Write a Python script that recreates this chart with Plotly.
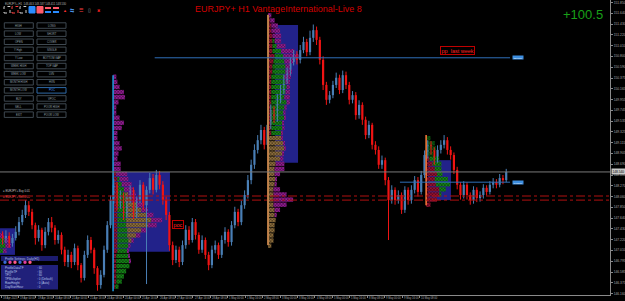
import plotly.graph_objects as go

# ---------------- data ----------------
first_open = 147.30
hours_per_candle = 3
closes = [147.21,147.29,147.15,147.25,147.37, 147.56,147.70,147.89,147.76,147.50,
          147.25,147.41,147.11,147.37,147.56, 147.45,147.21,147.31,147.02,146.78,
          146.92,146.78,147.05,146.72,146.47, 146.92,147.21,147.02,146.66,146.33,
          146.53,147.02,147.50,147.99,148.29, 147.89,148.09,147.70,147.99,148.19,
          147.70,147.99,148.29,147.89,148.19, 148.42,148.19,148.48,148.29,147.99,
          147.70,147.11,146.82,147.02,146.78, 147.11,147.41,147.21,147.56,147.31,
          147.02,147.21,146.92,146.72,147.02, 147.11,146.92,147.21,147.37,147.17,
          147.50,147.76,147.56,147.89,148.09, 148.38,148.68,148.97,149.16,149.36,
          149.07,149.46,149.75,149.59,149.95, 150.14,150.34,150.49,150.69,150.83,
          150.73,150.92,151.08,150.88,151.16, 151.31,151.12,150.73,150.24,149.95,
          150.04,150.24,150.38,150.14,150.43, 150.24,149.95,150.04,149.65,149.85,
          149.56,149.26,149.46,149.07,148.97, 148.68,148.77,148.38,147.99,148.19,
          147.99,148.09,147.80,148.19,147.99, 148.19,148.38,148.15,148.48,148.87,
          149.07,148.97,148.77,148.97,149.07, 149.16,148.97,148.87,148.58,148.29,
          148.09,148.29,148.09,147.99,148.19, 148.03,148.09,148.23,148.15,148.29,
          148.34,148.29,148.42,148.38,148.54]
highs = [147.38,147.40,147.36,147.33,147.48, 147.66,147.80,147.99,147.97,147.82,
         147.55,147.50,147.45,147.46,147.64, 147.66,147.50,147.40,147.36,147.08,
         147.02,146.98,147.14,147.10,146.76, 147.00,147.30,147.27,147.06,146.70,
         146.62,147.10,147.58,148.08,148.40, 148.34,148.18,148.14,148.08,148.28,
         148.24,148.06,148.38,148.34,148.26, 148.52,148.50,148.58,148.56,148.36,
         148.06,147.76,147.18,147.10,147.08, 147.20,147.50,147.48,147.64,147.62,
         147.36,147.30,147.26,146.98,147.10, 147.20,147.16,147.30,147.46,147.42,
         147.58,147.86,147.82,147.98,148.18, 148.48,148.78,149.08,149.26,149.46,
         149.42,149.56,149.86,149.82,150.06, 150.24,150.44,150.58,150.78,150.92,
         150.90,151.02,151.18,151.14,151.30, 151.42,151.38,151.18,150.80,150.30,
         150.12,150.32,150.48,150.44,150.52, 150.50,150.30,150.12,150.10,149.94,
         149.90,149.62,149.54,149.50,149.14, 149.04,148.86,148.82,148.44,148.28,
         148.24,148.18,148.14,148.26,148.24, 148.28,148.46,148.44,148.56,148.96,
         149.16,149.14,149.02,149.06,149.16, 149.26,149.22,149.04,148.92,148.64,
         148.34,148.36,148.34,148.14,148.26, 148.24,148.16,148.30,148.28,148.36,
         148.42,148.40,148.50,148.48,148.60]
lows = [147.12,147.15,147.06,147.08,147.20, 147.30,147.50,147.64,147.68,147.42,
        147.12,147.18,147.00,147.05,147.30, 147.36,147.12,147.14,146.93,146.70,
        146.68,146.66,146.72,146.62,146.38, 146.42,146.86,146.95,146.55,146.22,
        146.26,146.48,146.96,147.44,147.92, 147.80,147.82,147.60,147.64,147.92,
        147.62,147.64,147.92,147.80,146.35, 148.12,148.10,148.14,148.20,147.90,
        147.60,147.00,146.72,146.76,146.68, 146.72,147.04,147.12,147.16,147.22,
        146.94,146.96,146.84,146.62,146.66, 146.95,146.84,146.86,147.14,147.08,
        147.10,147.44,147.48,147.50,147.82, 148.02,148.30,148.60,148.90,149.08,
        148.98,149.00,149.38,149.50,149.52, 149.88,150.06,150.26,150.42,150.62,
        150.64,150.66,150.86,150.80,150.82, 151.08,151.02,150.64,150.14,149.85,
        149.88,149.98,150.18,150.06,150.08, 150.16,149.86,149.88,149.56,149.58,
        149.46,149.18,149.20,148.98,148.88, 148.60,148.60,148.28,147.21,147.92,
        147.90,147.92,147.72,147.74,147.90, 147.92,148.12,148.06,148.10,148.42,
        148.80,148.88,148.68,148.72,148.90, 149.00,148.88,148.78,148.50,148.20,
        148.00,148.02,148.00,147.90,147.92, 147.95,147.96,148.02,148.08,148.10,
        148.22,148.22,148.24,148.30,148.34]

x_tick_hours = [0,16,32,48,64,80,96,112,128,144,160,176,192,208,224,240,256,272,288,304,320,336,352,368,384]
x_tick_labels = ["18 Apr 2023","19 Apr 00:00","19 Apr 16:00","20 Apr 08:00","21 Apr 00:00","21 Apr 16:00",
                 "24 Apr 08:00","25 Apr 00:00","25 Apr 16:00","26 Apr 08:00","27 Apr 00:00","27 Apr 16:00",
                 "28 Apr 08:00","1 May 00:00","1 May 16:00","2 May 08:00","3 May 00:00","3 May 16:00",
                 "4 May 08:00","5 May 00:00","5 May 16:00","8 May 08:00","9 May 00:00","9 May 16:00","10 May 08:00"]
y_tick_values = [151.850,151.640,151.430,151.220,151.010,150.800,150.590,150.375,150.165,149.955,
                 149.745,149.535,149.325,149.115,148.905,148.690,148.480,148.270,148.060,147.850,
                 147.640,147.430,147.220,147.010,146.795,146.585,146.375,146.160]
y_tick_text = ["151.850","151.640","151.430","151.220","151.010","150.800","150.590","150.375","150.165","149.955",
               "149.745","149.535","149.325","149.115","148.905","148.690","148.480","148.270","148.060","147.850",
               "147.640","147.430","147.220","147.010","146.795","146.585","146.375","146.160"]

# market profiles (levels in price, segment lengths in hourly bars)
p1_anchor = 102.8
p1_levels = [150.40,150.30,150.20,150.10,150.00,149.90,149.80,149.70,149.60,149.50,149.40,149.30,149.20,149.10,
             149.00,148.90,148.80,148.70,148.60,148.50,148.40,148.30,148.20,148.10,148.00,147.90,147.80,147.70,
             147.60,147.50,147.40,147.30,147.20,147.10,147.00,146.90,146.80,146.70,146.60,146.50,146.40,146.30]
p1_red = [0,0,0,0,0,0,0,0,0,0,0,0,0,0,0,0,0,0, 0,3,4,4,4,4,4,4,4,4,4,4,4,4,4,4,4,3,3,3,3,3,3,2]
p1_green = [0,0,0,0,0,0,0,0,0,0,0,0,0,0,0,0,0,0, 0,0,2,4,6,7,7,8,8,8,8,8,9,9,10,10,9,11,12,12,9,7,5,3]
p1_tan = [0,0,0,0,0,0,0,0,0,0,0,0,0,0,0,0,0,0, 0,0,0,0,0,3,6,10,14,19,23,20,13,8,3,0,0,0,0,0,0,0,0,0]
p1_mag = [3,4,6,10,11,5,3,3,6,10,8,4,4,6,8,5,4,7, 7,10,8,9,8,7,6,6,6,6,10,8,5,4,2,2,1,1,1,0,0,0,0,0]

p2_anchor = 245.0
p2_levels = [151.60,151.50,151.40,151.30,151.20,151.10,151.00,150.90,150.80,150.70,150.60,150.50,150.40,150.30,
             150.20,150.10,150.00,149.90,149.80,149.70,149.60,149.50,149.40,149.30,149.20,149.10,149.00,148.90,
             148.80,148.70,148.60,148.50,148.40,148.30,148.20,148.10,148.00,147.90,147.80,147.70,147.60,147.50,
             147.40,147.30,147.20,147.10]
p2_red = [0,2,3,3,4,4,4,4,6,5,4,4,3,3,3,3,3,3,3,3,3,3,3,3, 0,0,0,0,0, 0,0,0,0,0,0,0,0,0,0,0,0,0,0,0,0,0]
p2_green = [0,0,0,0,0,2,4,8,8,10,12,12,12,13,14,13,12,14,12,11,12,10,10,9, 0,0,0,0,0, 0,0,0,0,0,0,0,0,0,0,0,0,0,0,0,0,0]
p2_tan = [0,0,0,0,0,0,0,0,0,0,0,0,0,0,0,0,0,0,0,0,0,0,0,0, 12,14,15,13,11, 7,6,6,7,6,5,5,5,5,6,6,7,6,6,5,5,3]
p2_mag = [3,4,6,8,8,6,8,12,14,8,4,6,6,4,3,4,5,3,2,2,1,1,2,1, 1,1,1,1,3, 8,9,5,1,2,6,12,18,12,5,2,0,0,0,0,0,0]

p3_anchor = 390.0
p3_levels = [149.20,149.10,149.00,148.90,148.80,148.70,148.60,148.50,148.40,148.30,148.20,148.10,148.00,147.90]
p3_red = [0,0,0,0,3,6,8,10,8,9,12,12,10,4]
p3_dkgreen = [4,8,9,7,0,0,0,0,0,0,0,0,0,0]
p3_green = [0,0,0,0,9,8,6,5,12,13,6,2,0,0]

p0_anchor = -0.9
p0_levels = [147.30,147.20,147.10,147.00]
p0_green = [0,4,5,3]
p0_mag = [3,4,5,3]

# value-area boxes
box_x0 = [-0.9, 102.8, 251.4, 391.7]
box_x1 = [12.8, 155.0, 272.5, 412.8]
box_lo = [146.92, 146.98, 148.72, 147.99]
box_hi = [147.44, 148.54, 151.41, 148.77]

# profile start lines
vline_x = [102.8, 245.0, 390.0]
vline_lo = [146.21, 147.11, 147.89]
vline_hi = [150.43, 151.61, 149.26]

# horizontal levels
bid_price = 148.54
pp_price = 150.77
pp_start, pp_end = 141.0, 467.0
lvl2_price = 148.34
lvl2_start, lvl2_end = 366.0, 467.0
order_prices = [148.07, 147.99]
poc_label_x, poc_label_price = 157.0, 147.52
pp_label_x, pp_label_price = 402.8, 150.92

left_buttons = ["HIGH","LOW","OPEN","Y High","Y Low","WEEK HIGH","WEEK LOW","MONTH HIGH","MONTH LOW","BUY","SELL","EXIT"]
right_buttons = ["LONG","SHORT","COVER","SINGLE","BOTTOM GAP","TOP GAP","LVN","HVN","POC","VPOC","POOR HIGH","POOR LOW"]
panel_names = ["ProfileDataTF","ProfileTF","TPO","TPMultiplier","RowHeight","DayStartHour"]
panel_values = ["60","60","60","0 (Default)","0 (Auto)","0"]

# ---------------- figure ----------------
W, H = 625, 301
PW, PH = 610, 295
def px(x):
    return x / PW
def py(y):
    return 1 - y / PH

FONT = "Liberation Sans, Arial, sans-serif"
UP, DN = "#4a7fb5", "#f01414"
RED, GREEN, TAN, MAG, DKG = "#e0184a", "#22c622", "#c8a05a", "#d22ad2", "#0c7a16"
DARK = {RED: "#5a0a1e", GREEN: "#0c500e", TAN: "#5a4424", MAG: "#5a105a", DKG: "#06380a"}

fig = go.Figure()

opens = [first_open] + closes[:-1]
xc = [hours_per_candle * i + hours_per_candle / 2 for i in range(len(closes))]

for up in (True, False):
    idx = [i for i in range(len(closes)) if (closes[i] >= opens[i]) == up]
    col = UP if up else DN
    wx, wy = [], []
    for i in idx:
        wx += [xc[i], xc[i], None]
        wy += [lows[i], highs[i], None]
    fig.add_trace(go.Scatter(x=wx, y=wy, mode="lines", line=dict(color=col, width=1),
                             hoverinfo="skip", showlegend=False))
    fig.add_trace(go.Bar(x=[xc[i] for i in idx],
                         base=[min(opens[i], closes[i]) for i in idx],
                         y=[max(abs(closes[i] - opens[i]), 0.012) for i in idx],
                         width=2.0, marker=dict(color=col, line=dict(width=0)),
                         hoverinfo="skip", showlegend=False))

def add_profile(anchor, levels, segments):
    cum = [anchor] * len(levels)
    for lengths, col in segments:
        fig.add_trace(go.Bar(orientation="h", y=levels, x=lengths, base=list(cum), width=0.085,
                             marker=dict(color=col, line=dict(width=0),
                                         pattern=dict(shape="x", fgcolor=col, bgcolor=DARK[col],
                                                      size=2.2, solidity=0.55)),
                             hoverinfo="skip", showlegend=False))
        cum = [c + l for c, l in zip(cum, lengths)]

add_profile(p0_anchor, p0_levels, [(p0_green, GREEN), (p0_mag, MAG)])
add_profile(p1_anchor, p1_levels, [(p1_red, RED), (p1_green, GREEN), (p1_tan, TAN), (p1_mag, MAG)])
add_profile(p2_anchor, p2_levels, [(p2_red, RED), (p2_green, GREEN), (p2_tan, TAN), (p2_mag, MAG)])
add_profile(p3_anchor, p3_levels, [(p3_red, RED), (p3_dkgreen, DKG), (p3_green, GREEN)])

shapes = []
for x0, x1, lo, hi in zip(box_x0, box_x1, box_lo, box_hi):
    shapes.append(dict(type="rect", xref="x", yref="y", x0=x0, x1=x1, y0=lo, y1=hi,
                       fillcolor="#22228a", line=dict(width=0), layer="below"))
vcols = ["#1e9be0", "#c0824a", "#ff7a3a"]
vwid = [1.5, 2, 1.5]
for x, lo, hi, c, w in zip(vline_x, vline_lo, vline_hi, vcols, vwid):
    shapes.append(dict(type="line", xref="x", yref="y", x0=x, x1=x, y0=lo, y1=hi,
                       line=dict(color=c, width=w)))
shapes.append(dict(type="line", xref="paper", yref="y", x0=0, x1=1, y0=bid_price, y1=bid_price,
                   line=dict(color="#7a7a7a", width=1)))
shapes.append(dict(type="line", xref="x", yref="y", x0=pp_start, x1=pp_end, y0=pp_price, y1=pp_price,
                   line=dict(color="#2f6fb8", width=1)))
shapes.append(dict(type="line", xref="x", yref="y", x0=lvl2_start, x1=lvl2_end, y0=lvl2_price, y1=lvl2_price,
                   line=dict(color="#2f6fb8", width=1)))
for p in order_prices:
    shapes.append(dict(type="line", xref="paper", yref="y", x0=0, x1=1, y0=p, y1=p,
                       line=dict(color="#b01010", width=1, dash="dashdot")))

ann = []
def text(x, y, t, size, color, xanchor="left", yanchor="middle", xref="paper", yref="paper", **kw):
    kw.setdefault("borderpad", 0)
    ann.append(dict(x=x, y=y, xref=xref, yref=yref, text=t, showarrow=False, xanchor=xanchor,
                    yanchor=yanchor, font=dict(size=size, color=color, family=FONT), **kw))

# header and icons
text(px(4), py(3.5), "EURJPY+,H1  148.463 148.587 148.411 148.530", 2.8, "#b0b0b0")
icon_boxes = [(4, 10, None, "#d0d0d0"), (12, 18, None, "#ff4040"), (20, 26, None, "#d0d0d0"),
              (29, 35, "#2a8cff", "#2a8cff"), (37, 43, "#ff5a6a", "#ff5a6a")]
for x0, x1, fill, lc in icon_boxes:
    shapes.append(dict(type="rect", xref="paper", yref="paper", x0=px(x0), x1=px(x1), y0=py(13), y1=py(6.5),
                       fillcolor=fill if fill else "rgba(0,0,0,0)",
                       line=dict(color=lc, width=1, dash="dot" if fill is None else "solid")))
for x0 in (45, 53):
    shapes.append(dict(type="rect", xref="paper", yref="paper", x0=px(x0), x1=px(x0 + 6), y0=py(9), y1=py(7),
                       fillcolor="#ff5a6a", line=dict(width=0)))
    shapes.append(dict(type="rect", xref="paper", yref="paper", x0=px(x0), x1=px(x0 + 6), y0=py(13), y1=py(11),
                       fillcolor="#2a8cff", line=dict(width=0)))
text(px(62), py(10), "▲", 4, "#ff3030")
text(px(69), py(10), "⇆", 5, "#4a90e0")
text(px(78), py(10), "☰", 5, "#ff4040")
text(px(87), py(10), "▯", 5, "#a0a0a0")
text(px(96), py(10), "✖", 4, "#ff2020")

# button panel
for k, (lb, rb) in enumerate(zip(left_buttons, right_buttons)):
    top = 22.8 + 8.1 * k
    for (x0, x1, lab) in ((4.3, 33.3, lb), (37, 66, rb)):
        is_poc = lab == "POC"
        shapes.append(dict(type="rect", xref="paper", yref="paper", x0=px(x0), x1=px(x1),
                           y0=py(top + 5.5), y1=py(top), fillcolor="#000000",
                           line=dict(color="#2f6aa8" if is_poc else "#3e4850", width=1)))
        text(px((x0 + x1) / 2), py(top + 2.9), lab, 2.7, "#4a9cff" if is_poc else "#93a0ab", xanchor="center")

# title and profit
text(px(278), py(9), "EURJPY+ H1 VantageInternational-Live 8", 9, "#d40000", xanchor="center")
text(px(583), py(14.5), "+100.5", 13, "#18a018", xanchor="center")

# order labels
text(px(2), py(191), "≡ EURJPY+ Buy 0.01", 2.8, "#c8c8c8")
text(px(2), py(196.5), "≡ EURJPY+ Sell 0.01", 2.8, "#ff5050")

# level labels
text(poc_label_x, poc_label_price, "poc", 5.5, "#ff2020", xref="x", yref="y",
     bordercolor="#c00000", borderwidth=1, borderpad=0.5, bgcolor="#000000")
text(pp_label_x, pp_label_price, "pp  last week", 5.5, "#ff2020", xref="x", yref="y",
     bordercolor="#c00000", borderwidth=1, borderpad=0.5, bgcolor="#000000")
for p in (pp_price, lvl2_price):
    text(pp_end + 1.5, p, "%.3f" % p, 2.3, "#ffffff", xref="x", yref="y", bgcolor="#3c8ee0", borderpad=0.6)
text(1.002, bid_price, "%.3f" % bid_price, 3.2, "#000000", yref="y", bgcolor="#c8c8c8", borderpad=0.5)

# bottom-left settings panel
shapes.append(dict(type="rect", xref="paper", yref="paper", x0=px(1), x1=px(58), y0=py(261), y1=py(256),
                   fillcolor="#1c1c6e", line=dict(width=0)))
text(px(4), py(258.5), "Profile Settings: Daily(H1)", 3, "#b8c4e8")
circle_cols = ["#3a6ad8", "#e040a0", "#ff5a8a", "#3a6ad8", "#e040a0", "#ff5a8a"]
for k, c in enumerate(circle_cols):
    cx = 5 + 5 * k
    shapes.append(dict(type="circle", xref="paper", yref="paper", x0=px(cx - 1.7), x1=px(cx + 1.7),
                       y0=py(264), y1=py(260.6), fillcolor=c, line=dict(width=0)))
shapes.append(dict(type="rect", xref="paper", yref="paper", x0=px(1), x1=px(58), y0=py(289.5), y1=py(265),
                   fillcolor="#20207a", line=dict(width=0)))
for k, (nm, vv) in enumerate(zip(panel_names, panel_values)):
    yy = 268 + 3.7 * k
    text(px(4), py(yy), nm, 3, "#b8c4e8")
    text(px(36), py(yy), ": " + vv, 3, "#b8c4e8")

# x-axis labels (MT4 style, left aligned at tick)
for h, lab in zip(x_tick_hours, x_tick_labels):
    text(h + 0.6, py(297.6), lab, 2.7, "#a8a8a8", xref="x")

fig.update_layout(
    width=W, height=H, margin=dict(l=0, r=W - PW, t=0, b=H - PH),
    paper_bgcolor="#000000", plot_bgcolor="#000000",
    barmode="overlay", showlegend=False, hovermode=False,
    shapes=shapes, annotations=ann,
    xaxis=dict(range=[-0.92, 558.7], showgrid=False, zeroline=False, showline=True, linecolor="#8a8a8a",
               linewidth=1, ticks="outside", ticklen=2, tickcolor="#8a8a8a",
               tickvals=x_tick_hours, showticklabels=False, fixedrange=True),
    yaxis=dict(range=[146.136, 151.899], side="right", showgrid=False, zeroline=False, showline=True,
               linecolor="#8a8a8a", linewidth=1, ticks="outside", ticklen=2, tickcolor="#8a8a8a",
               tickvals=y_tick_values, ticktext=y_tick_text,
               tickfont=dict(size=3.3, color="#a8a8a8", family=FONT), fixedrange=True),
)

fig.write_html("out.html")
